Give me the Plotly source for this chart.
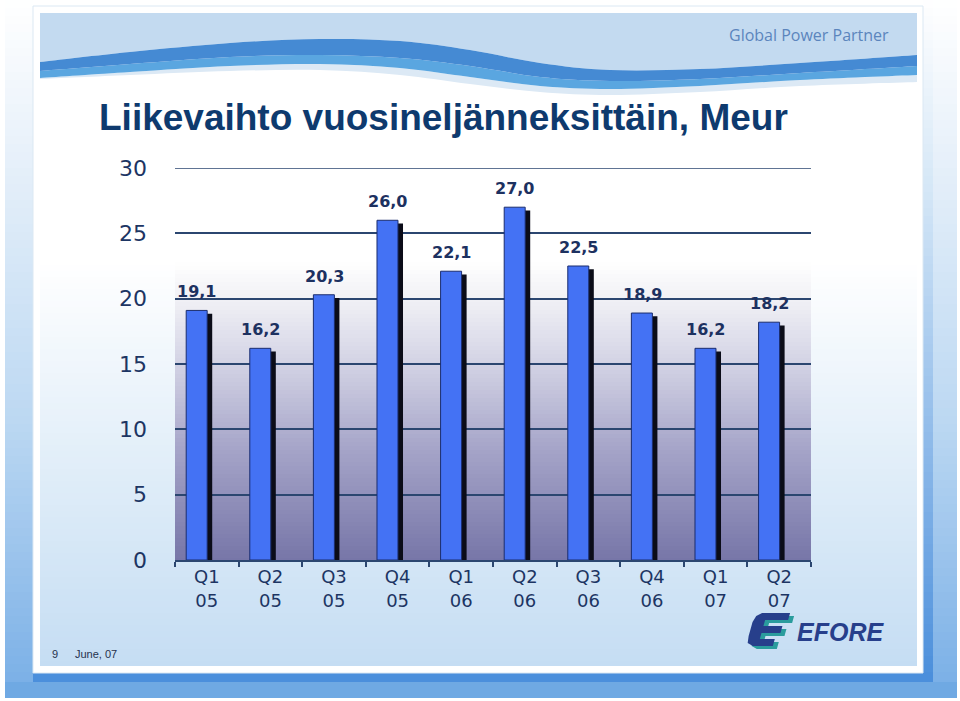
import plotly.graph_objects as go

# ---------------- data ----------------
quarters = ["Q1 05", "Q2 05", "Q3 05", "Q4 05", "Q1 06", "Q2 06", "Q3 06", "Q4 06", "Q1 07", "Q2 07"]
tick_labels = ["Q1<br>05", "Q2<br>05", "Q3<br>05", "Q4<br>05", "Q1<br>06",
               "Q2<br>06", "Q3<br>06", "Q4<br>06", "Q1<br>07", "Q2<br>07"]
revenue = [19.1, 16.2, 20.3, 26.0, 22.1, 27.0, 22.5, 18.9, 16.2, 18.2]
y_ticks = [0, 5, 10, 15, 20, 25, 30]

title_text = "Liikevaihto vuosineljänneksittäin, Meur"
header_text = "Global Power Partner"
footer_page = "9"
footer_date = "June, 07"
logo_text = "EFORE"

# ---------------- geometry helpers (pixel -> paper) ----------------
FW, FH = 960, 701
L, R, T, B = 175, 811, 168, 560


def px(x):
    return (x - L) / (R - L)


def py(y):
    return (B - y) / (B - T)


def P(pt):
    return f"{px(pt[0]):.5f},{py(pt[1]):.5f}"


def hex2rgb(h):
    h = h.lstrip('#')
    return tuple(int(h[i:i + 2], 16) for i in (0, 2, 4))


def interp(stops, y):
    if y <= stops[0][0]:
        c = hex2rgb(stops[0][1])
    elif y >= stops[-1][0]:
        c = hex2rgb(stops[-1][1])
    else:
        for (y0, c0), (y1, c1) in zip(stops[:-1], stops[1:]):
            if y0 <= y <= y1:
                t = (y - y0) / (y1 - y0)
                a, b = hex2rgb(c0), hex2rgb(c1)
                c = tuple(a[i] + (b[i] - a[i]) * t for i in range(3))
                break
    return "rgb(%d,%d,%d)" % tuple(round(v) for v in c)


shapes = []


def rect(x0, y0, x1, y1, color, layer="below"):
    shapes.append(dict(type="rect", xref="paper", yref="paper",
                       x0=px(x0), x1=px(x1), y0=py(y1), y1=py(y0),
                       fillcolor=color, line=dict(width=0), layer=layer))


def grad(x0, x1, y0, y1, stops, step=4):
    y = y0
    while y < y1:
        y2 = min(y + step, y1)
        c = interp(stops, (y + y2) / 2)
        rect(x0, y, x1, min(y2 + 0.6, y1), c)
        y = y2


def segs(pts):
    d = ""
    n = len(pts)
    for i in range(n - 1):
        p0 = pts[i - 1] if i > 0 else pts[i]
        p1 = pts[i]
        p2 = pts[i + 1]
        p3 = pts[i + 2] if i + 2 < n else p2
        c1 = (p1[0] + (p2[0] - p0[0]) / 6, p1[1] + (p2[1] - p0[1]) / 6)
        c2 = (p2[0] - (p3[0] - p1[0]) / 6, p2[1] - (p3[1] - p1[1]) / 6)
        d += f" C{P(c1)} {P(c2)} {P(p2)}"
    return d


def band(top, bottom, color):
    d = "M" + P(top[0]) + segs(top) + " L" + P(bottom[-1]) + segs(bottom[::-1]) + " Z"
    shapes.append(dict(type="path", xref="paper", yref="paper", path=d,
                       fillcolor=color, line=dict(width=0), layer="below"))


def poly(pts, color):
    d = "M" + " L".join(P(p) for p in pts) + " Z"
    shapes.append(dict(type="path", xref="paper", yref="paper", path=d,
                       fillcolor=color, line=dict(width=0), layer="above"))


# ---------------- page background / frame ----------------
grad(5, 33, 0, 698, [(0, "#ffffff"), (150, "#e8f1fa"), (420, "#bcd8f2"), (698, "#78aee6")], step=8)
grad(933, 957, 0, 698, [(0, "#ffffff"), (150, "#e8f1fa"), (420, "#bcd8f2"), (698, "#78aee6")], step=8)
grad(923, 933, 0, 682, [(0, "#ffffff"), (200, "#d2e5f6"), (500, "#7fb0e6"), (682, "#4a8edb")], step=8)
rect(5, 682, 957, 698, "#6fa9e3")
rect(33, 673, 933, 682, "#4b8fdc")
# slide white panel
shapes.append(dict(type="rect", xref="paper", yref="paper", x0=px(33), x1=px(923), y0=py(673), y1=py(6),
                   fillcolor="#ffffff", line=dict(color="#dbe8f3", width=1), layer="below"))
# content gradient
grad(40, 917, 13, 666, [(13, "#ffffff"), (260, "#ffffff"), (450, "#e3eff9"), (666, "#c5ddf3")], step=6)

# header band + wave
T_edge = [(40, 62), (130, 52), (230, 43), (320, 39), (400, 41), (470, 50), (540, 63), (610, 70), (700, 69), (800, 63), (917, 55)]
M_edge = [(40, 71), (130, 64), (230, 57), (320, 55), (400, 58), (470, 66), (540, 77), (610, 81), (700, 79), (800, 73), (917, 66)]
B_edge = [(40, 78), (130, 72), (230, 66), (320, 64), (400, 68), (470, 77), (540, 86), (610, 89), (700, 86), (800, 80), (917, 75)]
P_edge = [(40, 79), (130, 75), (230, 71), (320, 70), (400, 75), (470, 84), (540, 92), (610, 95), (700, 92), (800, 86), (917, 82)]
band([(40, 13), (917, 13)], T_edge, "#c3daf0")
band(B_edge, P_edge, "#dce9f5")
band(M_edge, B_edge, "#5aa6e0")
band(T_edge, M_edge, "#458ad3")

# plot area gradient
grad(L, R, 262, B, [(262, "#ffffff"), (305, "#eeeef4"), (365, "#d2d2e4"), (450, "#a5a4c8"), (560, "#7776a8")], step=4)

# top gridline at 30 (range edge)
shapes.append(dict(type="line", xref="paper", yref="y", x0=0, x1=1, y0=30, y1=30,
                   line=dict(color="#2b4670", width=1.5), layer="below"))


# EFORE logo icon (slanted "E")
def e_shape(dx, dy, color):
    s = 0.28
    up = [(752, 613), (780, 613), (780, 620), (757, 620), (757, 626), (776, 626), (776, 633),
          (757, 633), (757, 639), (772, 639), (772, 646), (752, 646), (746, 643), (745, 636), (745, 622), (747, 616)]
    pts = [(x + s * (649 - y) + dx, y + dy) for x, y in up]
    poly(pts, color)


e_shape(4, 3, "#2a9c9d")
e_shape(0, 0, "#273f8b")

# ---------------- traces ----------------
fig = go.Figure()
fig.add_trace(go.Bar(x=quarters, y=[v - 0.25 for v in revenue], width=0.33, offset=-0.245,
                     marker=dict(color="#0b0c18", line=dict(width=0)), hoverinfo="skip"))
fig.add_trace(go.Bar(x=quarters, y=revenue, width=0.33, offset=-0.324,
                     marker=dict(color="#4472f4", line=dict(color="#1b2d6e", width=1))))

annotations = []
for q, v in zip(quarters, revenue):
    annotations.append(dict(x=q, y=v, xref="x", yref="y", text=f"{v:.1f}".replace(".", ","),
                            showarrow=False, yanchor="bottom", xanchor="center", xshift=-10, yshift=7,
                            font=dict(family="DejaVu Sans", size=16, color="#1d3160", weight="bold")))

annotations.append(dict(x=px(97), y=py(118), xref="paper", yref="paper", text=f"<b>{title_text}</b>",
                        showarrow=False, xanchor="left", yanchor="middle",
                        font=dict(family="Liberation Sans", size=37, color="#0e3a6e")))
annotations.append(dict(x=px(727), y=py(35), xref="paper", yref="paper", text=header_text,
                        showarrow=False, xanchor="left", yanchor="middle",
                        font=dict(family="Open Sans", size=16, color="#5b85bd")))
annotations.append(dict(x=px(50), y=py(654), xref="paper", yref="paper", text=footer_page,
                        showarrow=False, xanchor="left", yanchor="middle",
                        font=dict(family="Liberation Sans", size=11, color="#26324d")))
annotations.append(dict(x=px(73), y=py(654), xref="paper", yref="paper", text=footer_date,
                        showarrow=False, xanchor="left", yanchor="middle",
                        font=dict(family="Liberation Sans", size=11, color="#26324d")))
annotations.append(dict(x=px(795), y=py(632), xref="paper", yref="paper", text=f"<b><i>{logo_text}</i></b>",
                        showarrow=False, xanchor="left", yanchor="middle",
                        font=dict(family="Liberation Sans", size=25, color="#273f8b")))

fig.update_layout(
    width=FW, height=FH, autosize=False,
    margin=dict(l=L, r=FW - R, t=T, b=FH - B, pad=0),
    paper_bgcolor="#ffffff", plot_bgcolor="rgba(0,0,0,0)",
    barmode="overlay", showlegend=False,
    shapes=shapes, annotations=annotations,
    xaxis=dict(type="category", range=[-0.5, 9.5], tickvals=quarters, ticktext=tick_labels,
               showline=True, linecolor="#2b4670", linewidth=1.5, showgrid=False,
               ticks="outside", tickson="boundaries", ticklen=5, tickcolor="#2b4670", tickwidth=1.5,
               tickfont=dict(family="DejaVu Sans", size=18, color="#1d3563")),
    yaxis=dict(range=[0, 30], tickvals=y_ticks, showgrid=True, gridcolor="#2b4670", gridwidth=1.5,
               zeroline=False, showline=False, ticks="", ticklabelstandoff=27,
               tickfont=dict(family="DejaVu Sans", size=22, color="#1d3563")),
)

fig.write_html("out.html", config={"displayModeBar": False})
